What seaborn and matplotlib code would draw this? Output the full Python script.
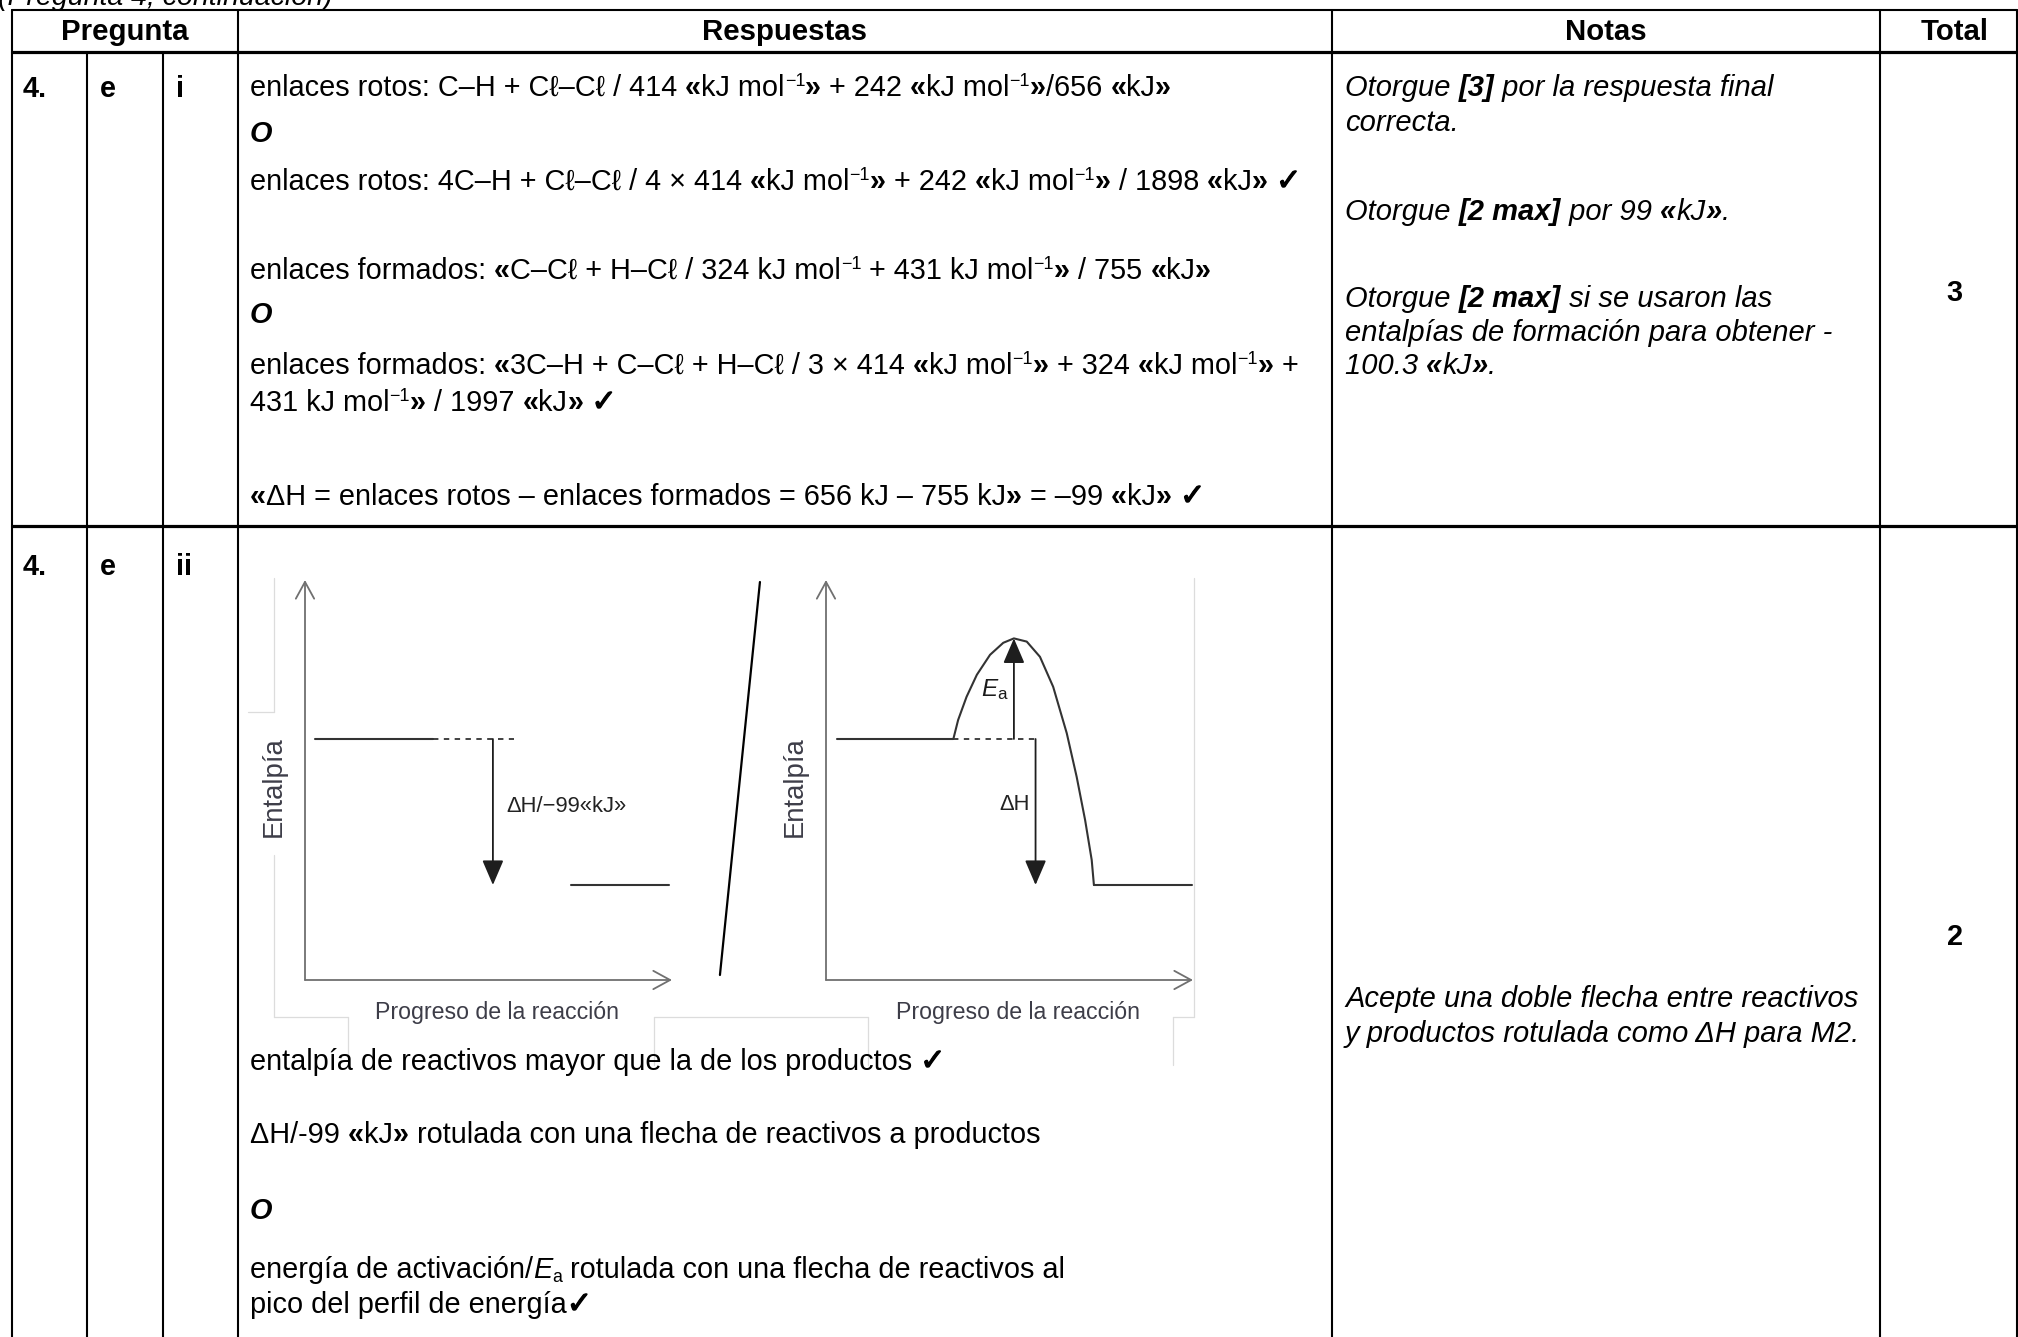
import re
import seaborn as sns
import matplotlib.pyplot as plt
import matplotlib.patheffects as pe
from matplotlib.font_manager import FontProperties

# textos de la tabla
encabezados = ["Pregunta", "Respuestas", "Notas", "Total"]
fila1_pregunta = ["4.", "e", "i"]
fila2_pregunta = ["4.", "e", "ii"]

fila1_respuestas = [
    "enlaces rotos: C–H + Cℓ–Cℓ / 414 «kJ mol^{−1}» + 242 «kJ mol^{−1}»/656 «kJ»",
    "***O***",
    "enlaces rotos: 4C–H + Cℓ–Cℓ / 4 × 414 «kJ mol^{−1}» + 242 «kJ mol^{−1}» / 1898 «kJ» ✓",
    "enlaces formados: «C–Cℓ + H–Cℓ / 324 kJ mol^{−1} + 431 kJ mol^{−1}» / 755 «kJ»",
    "***O***",
    "enlaces formados: «3C–H + C–Cℓ + H–Cℓ / 3 × 414 «kJ mol^{−1}» + 324 «kJ mol^{−1}» +",
    "431 kJ mol^{−1}» / 1997 «kJ» ✓",
    "«ΔH = enlaces rotos – enlaces formados = 656 kJ – 755 kJ» = –99 «kJ» ✓",
]
fila1_notas = [
    "Otorgue **[3]** por la respuesta final",
    "correcta.",
    "Otorgue **[2 max]** por 99 «kJ».",
    "Otorgue **[2 max]** si se usaron las",
    "entalpías de formación para obtener -",
    "100.3 «kJ».",
]
fila1_total = "3"

fila2_respuestas = [
    "entalpía de reactivos mayor que la de los productos ✓",
    "ΔH/-99 «kJ» rotulada con una flecha de reactivos a productos",
    "***O***",
    "energía de activación/*E*_{a} rotulada con una flecha de reactivos al",
    "pico del perfil de energía✓",
]
fila2_notas = [
    "Acepte una doble flecha entre reactivos",
    "y productos rotulada como ΔH para M2.",
]
fila2_total = "2"

# diagramas de entalpía (unidades arbitrarias 0-100)
nivel_reactivos = 60.25
nivel_productos = 23.75
izq_reactivos_x = [2.7, 34.9]
izq_discontinua_x = [34.9, 57.0]
izq_productos_x = [72.5, 99.2]
izq_flecha_x = 51.2
der_reactivos_x = [3.0, 34.7]
der_perfil_x = [34.7, 36.0, 38.3, 41.1, 44.7, 48.3, 51.2, 54.7, 58.3, 61.9, 65.6, 68.3, 70.6, 72.4, 73.0]
der_perfil_y = [60.25, 65.0, 70.8, 76.3, 81.3, 84.3, 85.4, 84.6, 80.8, 73.3, 61.7, 50.8, 40.0, 30.0, 23.75]
der_productos_x = [73.0, 99.7]
der_discontinua_x = [34.7, 57.1]
der_flecha_ea_x = 51.2
der_flecha_dh_x = 57.1
nivel_pico = 85.4
barra_x = [-18.0, -28.9]
barra_y = [99.5, 1.25]

sns.set_theme(style="white")
FAM = ["Liberation Sans", "DejaVu Sans"]
plt.rcParams["font.family"] = FAM
plt.rcParams["mathtext.fontset"] = "custom"
plt.rcParams["mathtext.rm"] = "Liberation Sans"
plt.rcParams["mathtext.it"] = "Liberation Sans:italic"

W, H = 2018, 1337
fig = plt.figure(figsize=(W / 100, H / 100), dpi=100)
ax = fig.add_axes([0, 0, 1, 1])
ax.set_xlim(0, W)
ax.set_ylim(H, 0)
ax.axis("off")
rend = fig.canvas.get_renderer()

TOKEN = re.compile(r"(\*\*|\*|\^\{[^}]*\}|_\{[^}]*\}|✓|«|»)")
grueso = [pe.withStroke(linewidth=0.9, foreground="black")]


def runs_of(s, bold, italic):
    out = []
    b, it = bold, italic
    for p in TOKEN.split(s):
        if not p:
            continue
        if p == "**":
            b = not b
        elif p == "*":
            it = not it
        elif p.startswith("^{"):
            out.append((p[2:-1], b, it, "sup"))
        elif p.startswith("_{"):
            out.append((p[2:-1], b, it, "sub"))
        elif p in ("«", "»"):
            out.append((p, True, it, "n"))
        elif p == "✓":
            out.append((p, False, False, "chk"))
        else:
            out.append((p, b, it, "n"))
    return out


def texto(x, y, s, size, bold=False, italic=False, ha="left", color="black"):
    items = []
    for txt, b, it, kind in runs_of(s, bold, italic):
        fs = size * {"sup": 0.62, "sub": 0.62, "chk": 1.05}.get(kind, 1.0)
        fam = ["DejaVu Sans"] if kind == "chk" else FAM
        fp = FontProperties(family=fam, size=fs, weight="bold" if b else "normal",
                            style="italic" if it else "normal")
        w = (rend.get_text_width_height_descent("|" + txt + "|", fp, ismath=False)[0]
             - rend.get_text_width_height_descent("||", fp, ismath=False)[0])
        items.append((txt, fp, kind, w))
    total = sum(i[3] for i in items)
    if ha == "center":
        x -= total / 2
    px = size * 100 / 72
    for txt, fp, kind, w in items:
        dy = {"sup": -0.36 * px, "sub": 0.14 * px}.get(kind, 0)
        t = ax.text(x, y + dy, txt, fontproperties=fp, va="baseline", ha="left", color=color)
        if kind == "chk":
            t.set_path_effects(grueso)
        x += w


# rejilla de la tabla
cols = [12, 87, 163, 238, 1332, 1880, 2017]
y_top, y_head, y_sep = 10, 52, 526
lw_fino, lw_grueso = 1.5, 2.3
ax.plot([cols[0], cols[-1]], [y_top, y_top], color="black", lw=lw_fino)
ax.plot([cols[0], cols[-1]], [y_head, y_head], color="black", lw=lw_grueso)
ax.plot([cols[0], cols[-1]], [y_sep, y_sep], color="black", lw=lw_grueso)
for i, c in enumerate(cols):
    ax.plot([c, c], [y_head if i in (1, 2) else y_top, H], color="black", lw=lw_fino)

texto(-2, 5, "(Pregunta 4, continuación)", 20.5, italic=True)

SZ_H, SZ, SZ_N = 21.2, 20.8, 21
centros = [(cols[0] + cols[3]) / 2, (cols[3] + cols[4]) / 2,
           (cols[4] + cols[5]) / 2, (cols[5] + cols[6]) / 2 + 6]
for c, t in zip(centros, encabezados):
    texto(c, 40, t, SZ_H, bold=True, ha="center")

x_preg = [23, 100, 176]
for x, t in zip(x_preg, fila1_pregunta):
    texto(x, 97, t, SZ, bold=True)
for x, t in zip(x_preg, fila2_pregunta):
    texto(x, 575, t, SZ, bold=True)

x_resp, x_nota = 250, 1345
for y, t in zip([96, 142, 190, 279, 323, 374, 411, 505], fila1_respuestas):
    texto(x_resp, y, t, SZ)
for y, t in zip([96, 131, 220, 307, 341, 374], fila1_notas):
    texto(x_nota, y, t, SZ_N, italic=True)
texto(centros[3], 301, fila1_total, SZ, bold=True, ha="center")

for y, t in zip([1070, 1143, 1219, 1278, 1313], fila2_respuestas):
    texto(x_resp, y, t, SZ)
for y, t in zip([1007, 1042], fila2_notas):
    texto(x_nota, y, t, SZ_N, italic=True)
texto(centros[3], 945, fila2_total, SZ, bold=True, ha="center")

# restos del marco de la imagen pegada
gris_claro = "#dcdcdc"
for xs, ys in [([274, 274], [578, 712]), ([248, 274], [712, 712]),
               ([274, 274], [855, 1017]), ([274, 348], [1017, 1017]),
               ([348, 348], [1017, 1065]), ([654, 654], [1017, 1065]),
               ([654, 868], [1017, 1017]), ([868, 868], [1017, 1065]),
               ([1173, 1173], [1017, 1065]), ([1173, 1194], [1017, 1017]),
               ([1194, 1194], [578, 1017])]:
    ax.plot(xs, ys, color=gris_claro, lw=0.9)


def diagrama(x0):
    a = fig.add_axes([x0 / W, (H - 980) / H, 367 / W, 400 / H])
    a.set_xlim(0, 100)
    a.set_ylim(0, 100)
    a.axis("off")
    a.patch.set_alpha(0)
    eje = dict(arrowstyle="->,head_length=0.55,head_width=0.3", color="#707070",
               lw=1.3, shrinkA=0, shrinkB=0, mutation_scale=22)
    a.annotate("", xy=(100, 0), xytext=(0, 0), arrowprops=eje, annotation_clip=False)
    a.annotate("", xy=(0, 100), xytext=(0, 0), arrowprops=eje, annotation_clip=False)
    a.text(-8.5, 48.25, "Entalpía", rotation=90, ha="center", va="center",
           fontsize=19.8, color="#3d3d48")
    a.text(52.2, -8, "Progreso de la reacción", ha="center", va="center",
           fontsize=16.7, color="#3d3d48")
    return a


flecha = dict(arrowstyle="-|>,head_length=0.7,head_width=0.3", color="#1e1e1e",
              lw=1.3, shrinkA=0, shrinkB=0, mutation_scale=22)
oscuro = "#333333"

izq = diagrama(305)
sns.lineplot(x=izq_reactivos_x, y=[nivel_reactivos] * 2, ax=izq, color=oscuro, lw=1.5)
sns.lineplot(x=izq_discontinua_x, y=[nivel_reactivos] * 2, ax=izq, color=oscuro, lw=1.3,
             linestyle=(0, (3, 3)))
sns.lineplot(x=izq_productos_x, y=[nivel_productos] * 2, ax=izq, color=oscuro, lw=1.5)
izq.annotate("", xy=(izq_flecha_x, nivel_productos), xytext=(izq_flecha_x, nivel_reactivos),
             arrowprops=flecha)
izq.text(izq_flecha_x + 3.6, 43.3, "ΔH/−99«kJ»", ha="left", va="center",
         fontsize=15.8, color="#222222")

der = diagrama(826)
sns.lineplot(x=der_reactivos_x, y=[nivel_reactivos] * 2, ax=der, color=oscuro, lw=1.5)
sns.lineplot(x=der_perfil_x, y=der_perfil_y, ax=der, color=oscuro, lw=1.5, sort=False)
sns.lineplot(x=der_productos_x, y=[nivel_productos] * 2, ax=der, color=oscuro, lw=1.5)
sns.lineplot(x=der_discontinua_x, y=[nivel_reactivos] * 2, ax=der, color=oscuro, lw=1.3,
             linestyle=(0, (3, 3)))
der.annotate("", xy=(der_flecha_ea_x, nivel_pico), xytext=(der_flecha_ea_x, nivel_reactivos),
             arrowprops=flecha)
der.annotate("", xy=(der_flecha_dh_x, nivel_productos), xytext=(der_flecha_dh_x, nivel_reactivos),
             arrowprops=flecha)
der.text(der_flecha_ea_x - 1.3, 72.5, r"$\mathit{E}_{\mathrm{a}}$", ha="right", va="center",
         fontsize=17.5, color="#1a1a1a")
der.text(der_flecha_dh_x - 1.6, 43.75, "ΔH", ha="right", va="center",
         fontsize=15.8, color="#222222")
der.plot(barra_x, barra_y, color="black", lw=1.6, clip_on=False)

fig.savefig("out.png", dpi=100)
